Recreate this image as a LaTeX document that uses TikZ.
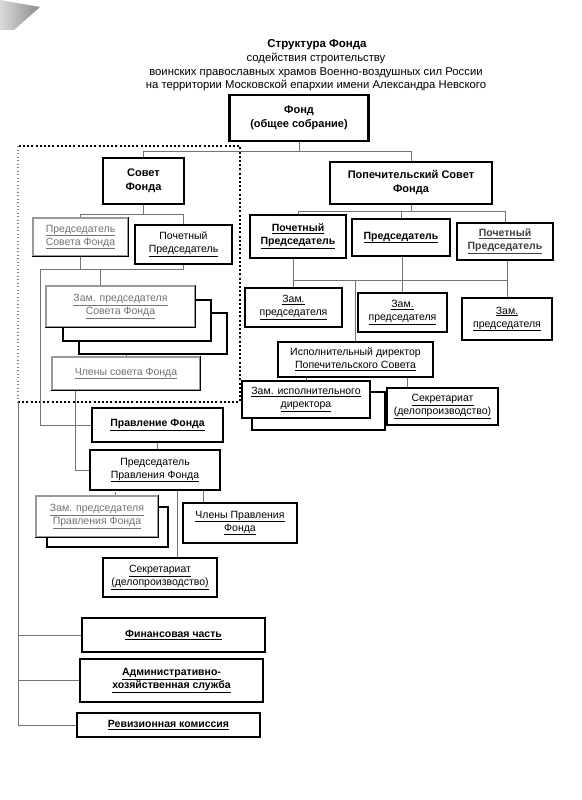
\documentclass[tikz,border=0pt]{standalone}
\usepackage{fontspec}
\setmainfont{Liberation Sans}
\tikzset{
  orgbox/.style={draw,line width=1.1pt,fill=white,align=center,inner sep=1pt,font=\fontsize{10.5}{13}\selectfont},
  mainbox/.style={orgbox,line width=2.4pt,font=\fontsize{11}{14}\selectfont\bfseries},
  boldbox/.style={orgbox,line width=1.7pt,font=\fontsize{10.5}{13}\selectfont\bfseries},
  palebox/.style={orgbox,draw=black!40,text=black!55},
  conn/.style={draw=black!55,line width=0.6pt},
}
\begin{document}
\begin{tikzpicture}[x=1pt,y=-1pt]
  \useasboundingbox[fill=white] (0,0) rectangle (581,800);
  \shade[left color=black!15,right color=black!45] (0,0) -- (40,7) -- (14,30) -- (0,30) -- cycle;

  \node[font=\fontsize{11.5}{13}\selectfont\bfseries] (title) at (317,45) {Структура Фонда};
  \node[align=center,font=\fontsize{11.3}{13.5}\selectfont] (subtitle) at (316,72)
    {содействия строительству\\воинских православных храмов Военно-воздушных сил России\\на территории Московской епархии имени Александра Невского};

  \node[mainbox,minimum width=139pt,minimum height=46pt] (fond) at (299,118) {Фонд\\(общее собрание)};

  \draw[line width=2pt,dash pattern=on 2pt off 2.2pt] (18,402) -- (240,402) -- (240,146) -- (18,146);
  \draw[black!50,line width=1.3pt,dash pattern=on 1.3pt off 2.2pt] (18,146) -- (18,402);

  \node[mainbox,minimum width=81pt,minimum height=46pt] (sovet) at (143.5,181) {Совет\\Фонда};
  \node[palebox,minimum width=95pt,minimum height=38pt] (predsov) at (80.5,237) {\underline{Председатель}\\\underline{Совета Фонда}};
  \draw[line width=1.1pt] (predsov.north east) |- (predsov.south west);
  \node[orgbox,minimum width=97pt,minimum height=39pt] (pochsov) at (183.5,244.5) {Почетный\\\underline{Председатель}};

  \node[orgbox,minimum width=148pt,minimum height=41pt] (zamsovc) at (153,333.5) {};
  \node[orgbox,minimum width=148pt,minimum height=41pt] (zamsovb) at (137,320.5) {};
  \node[palebox,minimum width=149pt,minimum height=41pt] (zamsov) at (120.5,306.5) {\underline{Зам. председателя}\\\underline{Совета Фонда}};
  \draw[line width=1.1pt] (zamsov.north east) |- (zamsov.south west);
  \node[palebox,minimum width=148pt,minimum height=33pt] (chlsov) at (126,373.5) {\underline{Члены совета Фонда}};
  \draw[line width=1.1pt] (chlsov.north east) |- (chlsov.south west);

  \node[mainbox,minimum width=162pt,minimum height=42pt] (popech) at (411,183) {Попечительский Совет\\Фонда};
  \node[boldbox,minimum width=96pt,minimum height=43pt] (poch1) at (298,236.5) {\underline{Почетный}\\\underline{Председатель}};
  \node[boldbox,minimum width=98pt,minimum height=37pt] (predp) at (401,237.5) {\underline{Председатель}};
  \node[boldbox,minimum width=96pt,minimum height=37pt,text=black!75] (poch2) at (505,241.5) {\underline{Почетный}\\\underline{Председатель}};

  \node[orgbox,minimum width=97pt,minimum height=39pt] (zam1) at (293.5,307.5) {\underline{Зам.}\\\underline{председателя}};
  \node[orgbox,minimum width=89pt,minimum height=39pt] (zam2) at (402.5,312.5) {\underline{Зам.}\\\underline{председателя}};
  \node[orgbox,minimum width=90pt,minimum height=42pt] (zam3) at (507,319) {\underline{Зам.}\\\underline{председателя}};
  \node[orgbox,minimum width=155pt,minimum height=35pt] (isp) at (355.5,359.5) {Исполнительный директор\\\underline{Попечительского Совета}};
  \node[orgbox,minimum width=133pt,minimum height=38pt] (zamispb) at (318.5,411) {};
  \node[orgbox,minimum width=128pt,minimum height=37pt] (zamisp) at (306,399.5) {\underline{Зам. исполнительного}\\\underline{директора}};
  \node[orgbox,minimum width=111pt,minimum height=37pt] (sekrp) at (442.5,406.5) {\underline{Секретариат}\\\underline{(делопроизводство)}};

  \node[boldbox,minimum width=131pt,minimum height=34pt] (pravl) at (157.5,425) {\underline{Правление Фонда}};
  \node[orgbox,minimum width=130pt,minimum height=40pt] (predpr) at (155,470) {Председатель\\\underline{Правления Фонда}};
  \node[orgbox,minimum width=121pt,minimum height=40pt] (zamprb) at (107.5,527) {};
  \node[palebox,minimum width=122pt,minimum height=41pt] (zampr) at (97,516.5) {\underline{Зам. председателя}\\\underline{Правления Фонда}};
  \draw[line width=1.1pt] (zampr.north east) |- (zampr.south west);
  \node[orgbox,minimum width=114pt,minimum height=40pt] (chlpr) at (240,523) {\underline{Члены Правления}\\\underline{Фонда}};
  \node[orgbox,minimum width=114pt,minimum height=39pt] (sekrpr) at (160,577.5) {\underline{Секретариат}\\\underline{(делопроизводство)}};

  \node[boldbox,minimum width=183pt,minimum height=34pt] (fin) at (173.5,635) {\underline{Финансовая часть}};
  \node[boldbox,minimum width=183pt,minimum height=43pt] (adm) at (171.5,680.5) {\underline{Административно-}\\\underline{хозяйственная служба}};
  \node[boldbox,minimum width=183pt,minimum height=24pt] (rev) at (168.5,725) {\underline{Ревизионная комиссия}};

  \draw[conn] (fond.south) -- ++(0,9) coordinate (busfond);
  \draw[conn] (sovet.north) |- (busfond) -| (popech.north);
  \draw[conn] (sovet.south) -- ++(0,9) coordinate (bussovet);
  \draw[conn] (predsov.north) |- (bussovet) -| (pochsov.north);
  \coordinate (busleft) at (40,269);
  \draw[conn] (pochsov.south) |- (busleft) -- (busleft |- pravl.west) -- (pravl.west);
  \draw[conn] (predsov.south) -- (predsov.south |- busleft);
  \draw[conn] ([xshift=-20pt]zamsov.north) -- ([xshift=-20pt]zamsov.north |- busleft);
  \draw[conn] (chlsov.north) -- (chlsov.north |- zamsovc.south);
  \draw[conn] ([xshift=-51pt]chlsov.south) |- (predpr.west);

  \draw[conn] (popech.south) -- ++(0,6) coordinate (buspopech);
  \draw[conn] (poch1.north) |- (buspopech) -| (poch2.north);
  \draw[conn] (predp.north) -- (predp.north |- buspopech);
  \coordinate (buszam) at (350,280);
  \draw[conn] (zam1.north |- poch1.south) -- (zam1.north);
  \draw[conn] (zam2.north |- predp.south) -- (zam2.north);
  \draw[conn] (zam3.north |- poch2.south) -- (zam3.north);
  \draw[conn] (zam1.north |- buszam) -- (zam3.north |- buszam);
  \draw[conn] (isp.north) -- (isp.north |- buszam);
  \draw[conn] (zamisp.north) -- (zamisp.north |- isp.south);
  \draw[conn] ([xshift=-35pt]sekrp.north) -- ([xshift=-35pt]sekrp.north |- isp.south);

  \draw[conn] (pravl.south) -- (pravl.south |- predpr.north);
  \draw[conn,densely dashed] ([xshift=18pt]zampr.north) -- ([xshift=18pt]zampr.north |- predpr.south);
  \draw[conn] ([xshift=-37pt]chlpr.north) -- ([xshift=-37pt]chlpr.north |- predpr.south);
  \draw[conn] ([xshift=17pt]sekrpr.north) -- ([xshift=17pt]sekrpr.north |- predpr.south);

  \coordinate (spine) at (18,402);
  \draw[conn] (spine) |- (rev.west);
  \draw[conn] (spine |- fin.west) -- (fin.west);
  \draw[conn] (spine |- adm.west) -- (adm.west);
\end{tikzpicture}
\end{document}
